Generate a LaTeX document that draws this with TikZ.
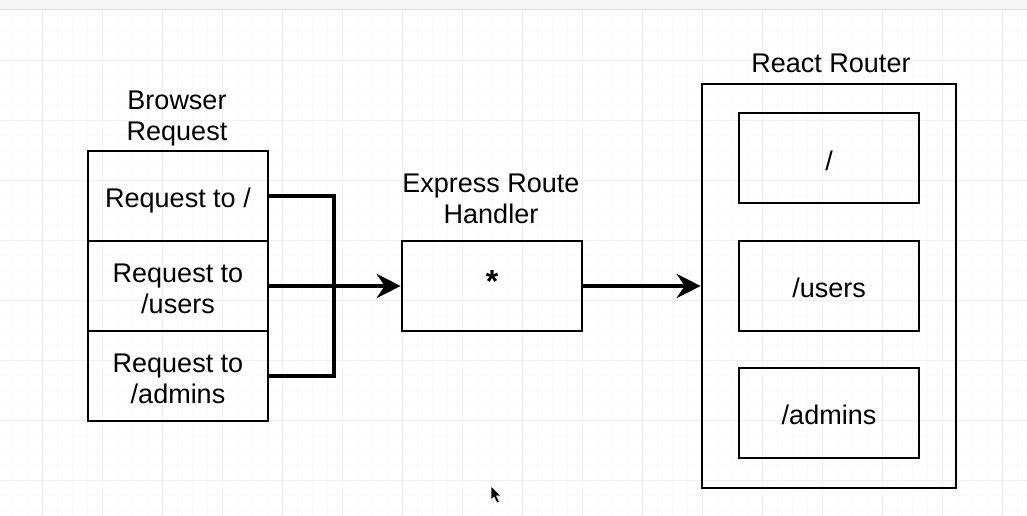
\documentclass[tikz,border=0pt]{standalone}
\usepackage{fontspec}
\setmainfont{Liberation Sans}
\usetikzlibrary{arrows.meta}
\newcommand\tshift[2]{\raisebox{#1}[\height][\depth]{#2}}
\newcommand\tlines[2]{\raisebox{#1}[\height][\depth]{\begin{tabular}{@{}c@{}}#2\end{tabular}}}
\begin{document}
\begin{tikzpicture}[x=1pt,y=-1pt,
  box/.style={draw=black,line width=2.6pt,minimum width=180pt,minimum height=90pt,inner sep=0pt,align=center,font=\fontsize{27}{31}\selectfont},
  lbl/.style={align=center,font=\fontsize{27}{31}\selectfont,inner sep=0pt},
  wire/.style={line width=4pt,line cap=butt},
  arr/.style={wire,-{Stealth[length=24pt,width=24pt,inset=8pt]}}]
\useasboundingbox (0,0) rectangle (1027,516);
\fill[white] (0,0) rectangle (1027,516);
% grid
\foreach \x in {12,27,...,1027} \draw[gray!5,line width=0.8pt] (\x,10) -- (\x,516);
\foreach \y in {15,30,...,516} \draw[gray!5,line width=0.8pt] (0,\y) -- (1027,\y);
\foreach \x in {42,102,...,1027} \draw[gray!12,line width=0.9pt] (\x,10) -- (\x,516);
\foreach \y in {60,120,...,516} \draw[gray!12,line width=0.9pt] (0,\y) -- (1027,\y);
% top bar
\fill[gray!7] (0,0) rectangle (1027,10);
\draw[gray!25,line width=1pt] (0,10) -- (1027,10);
% browser request stack
\node[lbl] (blbl) at (177,119) {Browser\\Request};
\node[box] (r1) at (178,196) {\tshift{-5pt}{Request to /}};
\node[box] (r2) at (178,286) {\tlines{-6pt}{Request to\\/users}};
\node[box] (r3) at (178,376) {\tlines{-5.5pt}{Request to\\/admins}};
% express
\node[lbl] (elbl) at (491,199) {Express Route\\Handler};
\node[box] (exp) at (492,286) {\tshift{5pt}{\fontsize{32}{32}\selectfont\bfseries *}};
% react router
\node[lbl] (rlbl) at (831,63) {React Router};
\node[draw=black,line width=2.6pt,minimum width=254pt,minimum height=404pt,inner sep=0pt] (rr) at (829,286) {};
\node[box] (p1) at (829,158) {\tshift{-3pt}{/}};
\node[box] (p2) at (829,286) {\tshift{-2pt}{/users}};
\node[box] (p3) at (829,413) {\tshift{-2pt}{/admins}};
% connectors
\coordinate (j) at (334,286);
\draw[wire] (r1.east) -| (j) |- (r3.east);
\draw[arr] (r2.east) -- (exp.west);
\draw[arr] (exp.east) -- (rr.west);
% cursor
\filldraw[fill=black,draw=white,line width=0.6pt] (491,486) -- (491,500) -- (494,497) -- (497,503) -- (499.5,502) -- (496.5,496) -- (501,496) -- cycle;
\end{tikzpicture}
\end{document}
